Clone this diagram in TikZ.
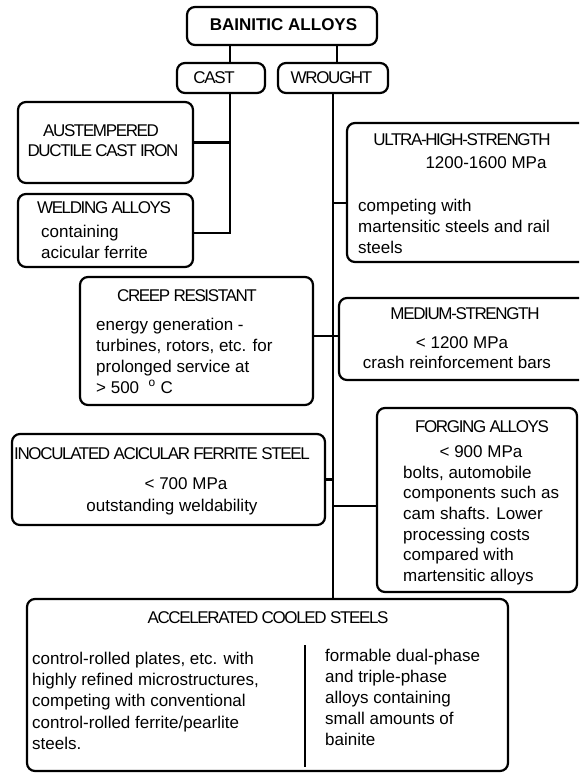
\documentclass[tikz,border=0pt]{standalone}
\usepackage{fontspec}
\setmainfont{Liberation Sans}
\newcommand\capsfont{\addfontfeature{LetterSpace=-8}}
\newcommand\bodyfont{\fontsize{17}{21}\selectfont}

\begin{document}
\begin{tikzpicture}
        [x=1pt, y=-1pt,
        box/.style={draw, rounded corners=8pt, line width=2.2pt, inner sep=0pt},
        link/.style={line width=2.9pt},
        head/.style={font=\bodyfont\capsfont, anchor=base, inner sep=0pt},
        ctr/.style={font=\bodyfont, anchor=base, inner sep=0pt},
        txt/.style={font=\bodyfont, align=left, anchor=north west, inner sep=0pt}]
        \useasboundingbox (0,0) rectangle (579,773);
        \clip (0,0) rectangle (579,773);

        % boxes
        \node[box, minimum width=190pt, minimum height=38pt] (top) at (282,26) {};
        \node[box, minimum width=88pt, minimum height=30pt] (cast) at (221,78) {};
        \node[box, minimum width=110pt, minimum height=30pt] (wrought) at (333,78) {};
        \node[box, minimum width=175pt, minimum height=81pt] (aust) at (105.5,142.5) {};
        \node[box, minimum width=175pt, minimum height=73pt] (weld) at (105.5,230.5) {};
        \node[box, minimum width=253pt, minimum height=139pt] (ultra) at (473.5,192.5) {};
        \node[box, minimum width=233pt, minimum height=128pt] (creep) at (196.5,341) {};
        \node[box, minimum width=261pt, minimum height=82pt] (medium) at (469.5,339) {};
        \node[box, minimum width=313pt, minimum height=91pt] (inoc) at (168.5,479.5) {};
        \node[box, minimum width=200pt, minimum height=184pt] (forging) at (477,500) {};
        \node[box, minimum width=481pt, minimum height=172pt] (accel) at (267.5,685) {};

        \coordinate (castx) at (230,0);
        \coordinate (wrx) at (337,0);

        % connectors
        \draw[link] (top.south -| castx) -- (cast.north -| castx);
        \draw[link] (top.south -| wrx) -- (wrought.north -| wrx);
        \draw[link] (cast.south -| castx) -- (castx |- 0,233) -- (weld.east |- 0,233);
        \draw[link] (aust.east) -- (aust.east -| castx);
        \draw[link] (wrought.south) -- (accel.north -| wrought.south);
        \draw[link] (wrought.south |- 0,203) -- (ultra.west |- 0,203);
        \draw[link] (creep.east |- 0,336) -- (medium.west |- 0,336);
        \draw[link] (inoc.east) -- (inoc.east -| wrought.south);
        \draw[link] (wrought.south |- 0,506) -- (forging.west |- 0,506);
        \draw[line width=2.6pt] (305,645) -- (305,767);

        % texts
        \node[ctr, font=\bodyfont\bfseries] (ttop) at (283.5,31) {BAINITIC ALLOYS};
        \node[head] (tcast) at (214,84) {CAST};
        \node[head] (twrought) at (331.5,84) {WROUGHT};

        \node[head] (taust) at (101,136) {AUSTEMPERED};
        \node[head] (taust2) at (103,156) {DUCTILE CAST IRON};
        \node[head] (tweld) at (104,213) {WELDING ALLOYS};
        \node[txt] (tweld2) at (41,222.3) {\strut containing\\acicular ferrite};

        \node[head] (tultra) at (462,146) {ULTRA-HIGH-STRENGTH};
        \node[ctr] (tultra2) at (486,168) {1200-1600 MPa};
        \node[txt] (tultra3) at (358,196.3) {\strut competing with\\martensitic steels and rail\\steels};

        \node[head] (tcreep) at (187,301) {CREEP RESISTANT};
        \node[txt] (tcreep2) at (96,315.3) {\strut energy generation -\\turbines, rotors, etc. for\\prolonged service at\\> 500 \ \textsuperscript{o} C};

        \node[head] (tmedium) at (465,319) {MEDIUM-STRENGTH};
        \node[ctr] (tmedium2) at (462,348) {< 1200 MPa};
        \node[ctr] (tmedium3) at (457,368) {crash reinforcement bars};

        \node[head] (tforging) at (482,432) {FORGING ALLOYS};
        \node[ctr] (tforging2) at (481,457) {< 900 MPa};
        \node[txt, font=\fontsize{17}{20.6}\selectfont] (tforging3) at (403,463.6) {\strut bolts, automobile\\components such as\\cam shafts. Lower\\processing costs\\compared with\\martensitic alloys};

        \node[head, anchor=base west] (tinoc) at (14,459) {INOCULATED ACICULAR FERRITE STEEL};
        \node[ctr] (tinoc2) at (186,489) {< 700 MPa};
        \node[ctr] (tinoc3) at (172,511) {outstanding weldability};

        \node[head] (taccel) at (268,623) {ACCELERATED COOLED STEELS};
        \node[txt, font=\fontsize{17}{21.3}\selectfont] (taccel2) at (32,649.1) {\strut control-rolled plates, etc. with\\highly refined microstructures,\\competing with conventional\\control-rolled ferrite/pearlite\\steels.};
        \node[txt] (taccel3) at (325,646.3) {\strut formable dual-phase\\and triple-phase\\alloys containing\\small amounts of\\bainite};

    \end{tikzpicture}
\end{document}
